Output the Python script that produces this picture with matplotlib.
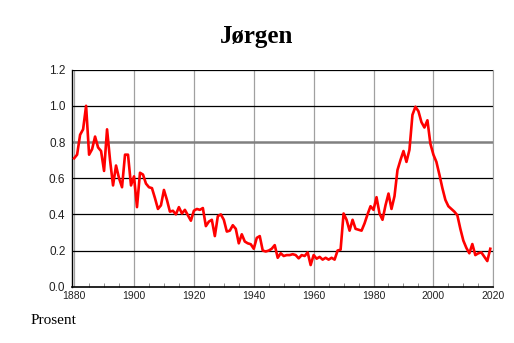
import matplotlib
matplotlib.use('Agg')
import matplotlib.pyplot as plt
import numpy as np

# share (per cent) by year
years = list(range(1880, 2020))
values = [
    0.71, 0.73, 0.84, 0.87, 1.00, 0.73, 0.76, 0.83, 0.77, 0.75,
    0.64, 0.87, 0.70, 0.56, 0.67, 0.60, 0.55, 0.73, 0.73, 0.56,
    0.61, 0.44, 0.63, 0.62, 0.57, 0.55, 0.545, 0.49, 0.43, 0.45,
    0.535, 0.48, 0.415, 0.42, 0.40, 0.44, 0.405, 0.425, 0.395, 0.365,
    0.42, 0.43, 0.425, 0.435, 0.335, 0.36, 0.37, 0.28, 0.39, 0.40,
    0.37, 0.305, 0.31, 0.34, 0.32, 0.24, 0.29, 0.25, 0.24, 0.235,
    0.21, 0.27, 0.28, 0.20, 0.195, 0.20, 0.21, 0.23, 0.16, 0.185,
    0.17, 0.175, 0.175, 0.18, 0.175, 0.157, 0.175, 0.17, 0.19, 0.12,
    0.175, 0.155, 0.165, 0.15, 0.16, 0.15, 0.16, 0.15, 0.20, 0.205,
    0.405, 0.37, 0.31, 0.37, 0.32, 0.315, 0.31, 0.35, 0.40, 0.445,
    0.425, 0.495, 0.405, 0.37, 0.45, 0.515, 0.43, 0.50, 0.645, 0.70,
    0.75, 0.69, 0.757, 0.95, 0.995, 0.97, 0.91, 0.88, 0.92, 0.79,
    0.73, 0.69, 0.62, 0.545, 0.48, 0.445, 0.43, 0.415, 0.395, 0.32,
    0.255, 0.215, 0.185, 0.236, 0.175, 0.185, 0.19, 0.166, 0.142, 0.21,
]
x_ticks = [1880, 1900, 1920, 1940, 1960, 1980, 2000, 2020]
y_ticks = [0.0, 0.2, 0.4, 0.6, 0.8, 1.0, 1.2]

fig = plt.figure(figsize=(5.14, 3.43), dpi=100)
ax = fig.add_axes([0.1407, 0.164, 0.819, 0.633])

ax.set_xlim(1879.4, 2020)
ax.set_ylim(0, 1.2)

# grid lines
for xv in x_ticks:
    ax.axvline(xv, color='#a0a0a0', lw=0.9, zorder=1)
for yv in y_ticks[1:]:
    if yv == 0.8:
        ax.axhline(yv, color='#808080', lw=1.8, zorder=1)
    else:
        ax.axhline(yv, color='black', lw=0.9, zorder=1)

ax.plot(years, values, color='#ff0000', lw=1.9, zorder=3)

ax.set_xticks(x_ticks)
ax.set_xticks(np.arange(1880, 2021, 5), minor=True)
ax.set_yticks(y_ticks)
ax.set_yticklabels(['%.1f' % v for v in y_ticks])
ax.tick_params(axis='x', which='major', direction='in', length=0, pad=3,
               labelsize=7.5, labelcolor='#222222')
ax.tick_params(axis='x', which='minor', direction='in', length=3,
               width=0.6, color='#808080')
ax.tick_params(axis='y', length=0, pad=5, labelsize=8.5,
               labelcolor='#222222')
for lbl in ax.get_xticklabels() + ax.get_yticklabels():
    lbl.set_fontfamily('Liberation Sans')

ax.spines['top'].set_visible(False)
ax.spines['right'].set_color('#a0a0a0')
ax.spines['left'].set_color('black')
ax.spines['bottom'].set_color('black')
ax.spines['left'].set_linewidth(1.0)
ax.spines['bottom'].set_linewidth(1.2)

fig.text(0.5, 0.895, 'Jørgen', ha='center', va='center',
         fontfamily='Liberation Serif', fontweight='bold', fontsize=18)
fig.text(0.06, 0.067, 'Prosent', ha='left', va='center',
         fontfamily='Liberation Serif', fontsize=11)

fig.savefig('out.png', dpi=100)
